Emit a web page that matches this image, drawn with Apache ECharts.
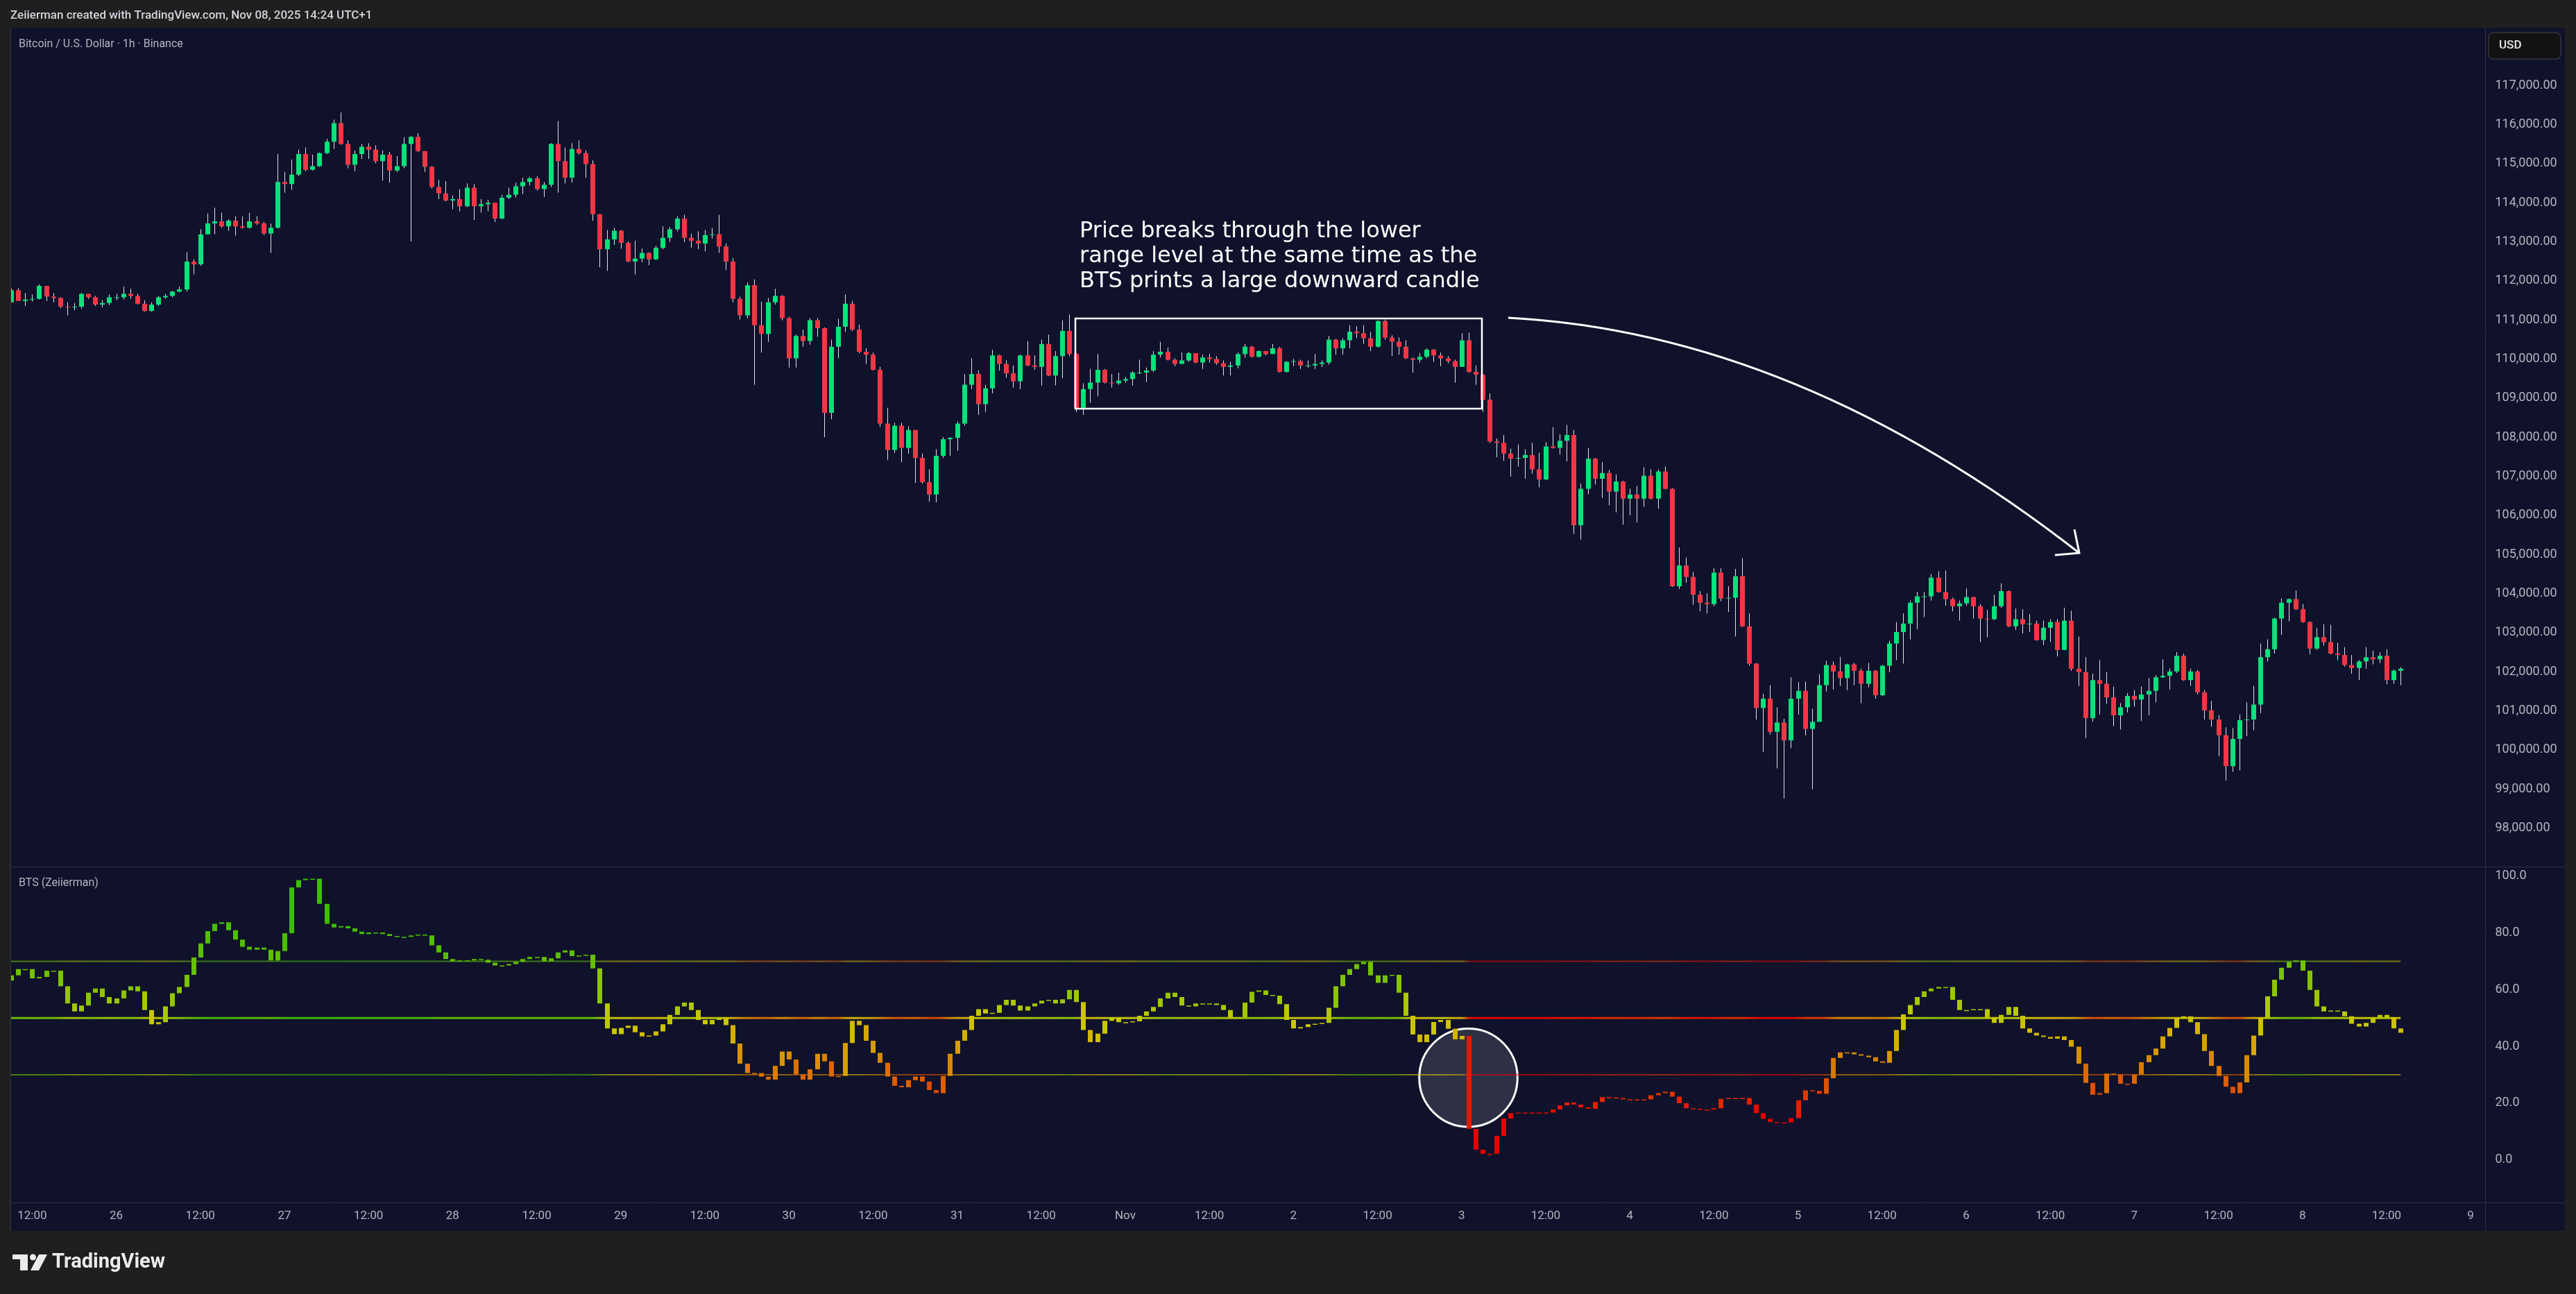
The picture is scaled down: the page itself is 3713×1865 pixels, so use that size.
<!DOCTYPE html>
<html>
<head>
<meta charset="UTF-8">
<title>BTCUSD 1h - BTS</title>
<script src="https://cdn.jsdelivr.net/npm/echarts@6/dist/echarts.min.js"></script>
<style>
  html, body { margin: 0; padding: 0; background: #1f1f1f; }
</style>
</head>
<body>
<div id="main" style="width:3713px;height:1865px"></div>
<script>
// one candle per hour, first one is Oct 25 2025 09:00 (chart time)
var startHour = Date.UTC(2025, 9, 25, 9);
var slotCount = 354;            // hourly slots on the time axis (runs past the last candle)
var monthNames = ['Jan','Feb','Mar','Apr','May','Jun','Jul','Aug','Sep','Oct','Nov','Dec'];

var priceMin = 98000, priceMax = 117000, priceStep = 1000;
var btsMin = 0, btsMax = 100, btsStep = 20;
var btsLevels = [70, 50, 30];

var priceOpen0 = 111448;
var priceClose = [
  111760,111485,111522,111540,111870,111595,111558,111338,111320,111338,111668,111577,
  111393,111430,111577,111577,111668,111614,111412,111228,111393,111577,111614,111723,
  111778,112494,112420,113190,113466,113521,113392,113539,113392,113356,113521,113466,
  113209,113356,114529,114474,114713,115244,114841,114933,115263,115556,116033,115501,
  114969,115244,115428,115354,115061,115226,114822,114933,115501,115684,115318,114914,
  114401,114236,114052,114089,113906,114382,113906,113961,113997,113594,114126,114199,
  114419,114529,114621,114345,114456,115501,115061,114639,115373,115263,114987,113704,
  112806,113062,113282,112970,112494,112567,112714,112549,112842,113099,113319,113594,
  113099,113025,112952,113172,113190,112879,112494,111540,111118,111889,110862,110642,
  111448,111614,111045,110018,110587,110458,110990,110788,108624,110312,110825,111412,
  110752,110183,110110,109725,108349,107671,108294,107726,108184,107469,106846,106534,
  107524,107946,107983,108349,109340,109615,108845,109248,110092,109872,109633,109431,
  110092,109835,109798,110385,109578,110073,110715,110128,108753,109230,109395,109725,
  109395,109377,109450,109487,109652,109652,109706,110110,110183,109982,109872,109963,
  110147,109908,110037,110000,109890,109798,109835,110128,110312,110055,110202,110128,
  110275,109670,109927,109945,109835,109835,109872,109908,110495,110275,110477,110697,
  110660,110532,110312,110972,110550,110440,110312,110018,109982,110055,110238,110092,
  110018,109945,109798,110477,109670,109597,108955,107891,107854,107579,107451,107469,
  107543,107176,106919,107763,107726,107909,108056,105746,106681,107451,106938,107084,
  106607,106864,106424,106534,106424,107011,106424,107121,106681,104187,104719,104425,
  103967,103765,103728,104535,103875,103894,104444,103160,102206,101070,101308,100464,
  100703,100245,101308,101510,100538,100721,101656,102170,102005,101840,102188,102023,
  101693,102023,101400,102152,102720,103013,103233,103765,103930,103930,104407,104040,
  103857,103674,103747,103912,103674,103362,103343,103674,104059,103160,103343,103215,
  103233,102812,103123,103270,102555,103307,102078,101987,100813,101785,101693,101345,
  100886,101088,101381,101290,101418,101510,101858,101895,102005,102408,101785,102005,
  101473,101015,100776,100373,99585,100281,100758,100776,101161,102372,102573,103362,
  103765,103857,103600,103270,102592,102885,102757,102463,102427,102170,102097,102262,
  102372,102317,102408,101785,102023,102078
];
var priceHigh = [
  111797,111815,111687,111650,111907,111870,111687,111577,111448,111430,111687,111668,
  111614,111504,111650,111668,111852,111797,111668,111504,111448,111614,111668,111741,
  111852,112732,112549,113319,113722,113869,113741,113576,113649,113649,113741,113649,
  113502,113466,115244,114786,115098,115354,115409,115226,115281,115629,116124,116308,
  115593,115336,115501,115519,115464,115336,115299,115189,115666,115703,115776,115318,
  114933,114584,114547,114181,114345,114492,114474,114089,114071,113997,114199,114382,
  114511,114639,114657,114676,114529,115519,116088,115409,115519,115593,115336,115079,
  113704,113300,113356,113300,113007,113025,112824,112732,112897,113392,113374,113649,
  113686,113209,113264,113300,113356,113686,112952,112585,111595,111962,112035,111467,
  111558,111797,111632,111082,110623,110752,111045,111045,110807,110495,111027,111650,
  111485,110880,110275,110165,109798,108753,108368,108368,108276,108184,107579,107176,
  107689,108001,108001,108404,109615,110018,109706,109340,110238,110110,109963,109835,
  110110,110458,110092,110495,110623,110202,110990,111137,110147,109377,109743,110128,
  109743,109615,109652,109542,109688,109982,109780,110202,110440,110293,110018,110165,
  110183,110147,110110,110128,110073,109963,109927,110165,110385,110330,110220,110202,
  110385,110312,109945,110000,109982,109963,110128,109963,110587,110513,110532,110862,
  110843,110862,110697,110990,111008,110605,110550,110477,110037,110147,110275,110257,
  110165,110073,109982,110660,110678,109835,109615,109120,107964,108056,107707,107818,
  107689,107854,107598,107873,108258,108074,108313,108184,106809,107726,107469,107359,
  107158,107048,106883,106681,106754,107231,107176,107176,107249,106699,105177,104920,
  104554,104059,104004,104645,104645,104187,104627,104902,103490,102225,101436,101656,
  101088,100795,101858,101730,101748,101051,101932,102280,102262,102372,102207,102225,
  102078,102225,102041,102170,102793,103270,103490,103820,104040,104040,104499,104572,
  104590,103894,103820,104132,103912,103728,103582,103967,104260,104077,103618,103600,
  103472,103307,103307,103343,103343,103637,103563,102903,102372,101950,102298,101987,
  101620,101198,101455,101528,101620,101840,101913,102317,102078,102500,102463,102078,
  102041,101528,101253,100886,100575,100557,100905,101216,101638,102720,102830,103380,
  103875,103875,104077,103728,103288,103123,103215,103197,102738,102628,102427,102298,
  102628,102537,102500,102573,102060,102115
];
var priceLow = [
  111448,111485,111357,111467,111522,111485,111448,111302,111118,111247,111283,111540,
  111357,111320,111375,111504,111522,111540,111393,111210,111210,111357,111540,111577,
  111705,111723,112164,112384,113190,113190,113356,113282,113154,113337,113337,113429,
  113172,112714,113337,114254,114327,114676,114804,114822,114914,115244,115373,115483,
  114878,114804,115116,115116,115006,114566,114511,114786,114878,113007,115299,114786,
  114364,114089,114034,113832,113777,113887,113557,113741,113777,113502,113576,114089,
  114126,114217,114437,114309,114144,114401,114254,114492,114511,115226,114639,113539,
  112347,112255,112916,112824,112475,112164,112475,112402,112531,112806,112989,113264,
  112989,112842,112806,112750,113080,112714,112274,111448,111008,111045,109340,110165,
  110440,111393,110990,109780,109780,110312,110367,110568,108001,108459,110018,110697,
  110715,110147,109872,109706,108258,107414,107598,107359,107579,106828,106809,106351,
  106332,107469,107524,107652,108294,109230,108569,108643,109120,109706,109523,109267,
  109230,109817,109725,109322,109560,109322,109505,110073,108643,108569,108881,109046,
  109377,109267,109340,109395,109322,109615,109413,109670,110037,109963,109817,109890,
  109927,109890,109743,109908,109853,109578,109578,109762,110037,110037,110037,110092,
  110128,109652,109652,109817,109743,109780,109743,109798,109853,110110,110110,110275,
  110532,110385,110202,110293,110495,110073,110110,110000,109652,109908,110018,109927,
  109817,109890,109395,109798,109652,109340,108643,107854,107487,107396,106993,107249,
  106938,107066,106717,106901,107707,107561,107377,105525,105379,106534,106791,106442,
  106259,106076,105764,106003,105819,106222,106406,106167,106662,104169,104114,104279,
  103710,103545,103490,103674,103802,103527,102903,103142,102152,100776,99951,100391,
  99529,98759,100043,100905,100373,98998,100740,101491,101546,101638,101528,101656,
  101198,101601,101308,101381,101987,102298,102207,102830,103087,103398,103820,104022,
  103692,103545,103307,103692,103362,102757,102885,103325,103637,103142,103068,102977,
  103013,102793,102683,102757,102390,102555,102023,101638,100300,100721,100905,101180,
  100611,100520,100960,101106,100740,100886,101216,101840,101546,101968,101767,101638,
  101418,100776,100593,99841,99218,99438,99474,100355,100501,100941,102262,102463,
  102940,103288,103582,103252,102445,102555,102665,102445,102298,102133,101950,101785,
  102078,102188,102225,101675,101693,101656
];

var btsOpen0 = 63.2;
var btsClose = [
  65.0,67.2,67.2,64.0,64.5,66.7,66.7,61.2,55.1,52.3,54.4,58.9,
  60.4,57.4,55.1,56.9,59.7,61.2,59.4,52.8,47.8,48.5,54.1,58.7,
  60.9,65.2,71.3,76.3,80.6,83.2,83.7,80.9,77.6,75.1,74.1,74.8,
  74.1,70.3,73.6,79.9,96.0,98.6,99.1,99.1,90.2,83.2,81.9,82.4,
  81.6,80.4,79.6,80.1,80.1,79.6,78.9,78.6,78.6,79.1,79.4,79.1,
  75.6,73.1,70.8,70.0,70.3,70.3,70.8,70.5,69.5,68.5,68.5,69.0,
  69.8,70.8,71.5,71.5,70.0,71.0,73.1,73.8,71.8,72.0,72.3,67.5,
  55.1,46.3,44.3,46.5,47.3,45.0,43.5,43.8,45.3,47.8,51.1,54.1,
  55.4,52.8,49.3,47.8,49.3,50.1,47.5,41.0,33.9,30.6,30.6,29.3,
  28.3,33.1,38.2,35.4,30.1,28.3,31.9,37.4,34.7,29.4,29.6,41.2,
  49.0,47.5,42.0,37.7,34.2,29.4,26.1,25.6,28.1,29.4,27.6,24.6,
  23.5,29.6,37.4,42.0,45.8,50.8,53.1,51.6,51.8,54.6,56.4,54.4,
  52.6,54.1,55.1,56.1,56.4,55.1,56.6,59.9,55.6,45.8,41.5,44.5,
  49.0,50.1,48.5,48.5,48.8,50.8,52.3,53.9,56.9,58.9,57.4,54.4,
  54.1,55.1,55.1,55.1,54.6,52.8,50.3,50.3,55.4,59.2,59.7,58.1,
  57.9,54.9,49.3,46.3,46.8,47.8,48.0,48.3,53.6,61.2,65.2,67.2,
  69.0,69.8,65.0,62.4,65.0,65.2,58.9,50.8,44.2,41.5,44.2,48.6,
  49.3,46.2,42.5,43.7,10.9,3.6,2.1,2.1,8.5,14.6,16.5,16.7,
  16.7,16.7,16.7,16.7,17.8,19.2,20.2,19.5,18.5,18.0,20.4,22.1,
  22.0,21.8,21.3,21.3,21.0,21.3,22.8,23.5,24.0,22.3,20.0,18.2,
  18.0,17.7,17.7,18.2,21.5,21.8,21.8,21.8,19.5,16.5,14.5,13.4,
  13.2,13.2,14.7,21.0,24.5,24.3,23.3,28.8,35.9,37.9,37.9,37.2,
  36.7,36.2,34.7,34.2,38.4,45.8,51.3,54.6,57.4,59.4,60.4,60.9,
  60.9,56.4,52.8,52.8,53.1,53.1,50.3,48.3,51.1,53.9,50.8,46.3,
  44.8,43.8,43.3,42.7,43.5,42.2,39.9,33.9,27.1,23.0,23.5,30.4,
  30.1,26.8,26.8,30.1,34.4,36.9,39.2,43.5,46.5,50.1,50.6,48.5,
  44.3,38.4,33.1,29.6,25.8,23.5,27.3,36.9,43.8,50.1,57.6,63.5,
  67.7,69.8,70.3,66.7,59.9,54.1,52.3,52.6,52.3,50.6,48.0,47.0,
  48.3,50.1,51.1,50.3,46.3,44.8
];

// ---- colours ----
var upColor = '#08e27b', downColor = '#f23645', wickColor = '#dfe1e8';
var navy = '#10122b', frame = '#1f1f1f', sepColor = '#2c3042', axisText = '#b2b5be';
var toneStops = [[0,'#e60000'],[16,'#e60000'],[23,'#e03800'],[30,'#dc6600'],[37,'#d89400'],
  [44,'#d4b400'],[49,'#cac800'],[54,'#a8c800'],[60,'#86c400'],[68,'#66c000'],[84,'#3cbe00']];

function hexRgb(h) { return [parseInt(h.substr(1,2),16), parseInt(h.substr(3,2),16), parseInt(h.substr(5,2),16)]; }
function toneColor(t) {
  if (t <= toneStops[0][0]) return toneStops[0][1];
  for (var k = 1; k < toneStops.length; k++) {
    if (t <= toneStops[k][0]) {
      var a = toneStops[k-1], b = toneStops[k];
      var f = (t - a[0]) / (b[0] - a[0]);
      var ca = hexRgb(a[1]), cb = hexRgb(b[1]);
      return 'rgb(' + Math.round(ca[0]+(cb[0]-ca[0])*f) + ',' + Math.round(ca[1]+(cb[1]-ca[1])*f) + ',' + Math.round(ca[2]+(cb[2]-ca[2])*f) + ')';
    }
  }
  return toneStops[toneStops.length-1][1];
}

// bar colour follows the value with some lag
var ema = btsOpen0;
var btsColors = btsClose.map(function (v) {
  ema += (v - ema) * 2 / 9;
  return toneColor(0.7 * v + 0.3 * ema);
});

var categories = [];
for (var k = 0; k < slotCount; k++) categories.push(String(startHour + k * 3600000));

var candleData = priceClose.map(function (c, i) {
  return [i, i === 0 ? priceOpen0 : priceClose[i-1], c, priceLow[i], priceHigh[i]];
});
var btsData = btsClose.map(function (c, i) {
  return [i, i === 0 ? btsOpen0 : btsClose[i-1], c];
});

function renderCandle(params, api) {
  var i = api.value(0), o = api.value(1), c = api.value(2);
  var pO = api.coord([i, o]), pC = api.coord([i, c]);
  var yL = api.coord([i, api.value(3)])[1], yH = api.coord([i, api.value(4)])[1];
  var x = Math.round(pO[0]);
  var top = Math.min(pO[1], pC[1]), bot = Math.max(pO[1], pC[1]);
  return { type: 'group', children: [
    { type: 'line', shape: { x1: x + 0.5, y1: yH, x2: x + 0.5, y2: yL }, style: { stroke: wickColor, lineWidth: 1 } },
    { type: 'rect', shape: { x: x - 3, y: top, width: 7, height: Math.max(bot - top, 1) }, style: { fill: c >= o ? upColor : downColor } }
  ]};
}
function renderBts(params, api) {
  var i = api.value(0);
  var pO = api.coord([i, api.value(1)]), pC = api.coord([i, api.value(2)]);
  var x = Math.round(pO[0]);
  var top = Math.min(pO[1], pC[1]), bot = Math.max(pO[1], pC[1]);
  return { type: 'rect', shape: { x: x - 3, y: top, width: 7, height: Math.max(bot - top, 1.5) },
           style: { fill: btsColors[params.dataIndex] } };
}

function levelGradient() {
  var stops = btsColors.map(function (col, i) { return { offset: i / (btsColors.length - 1), color: col }; });
  return new echarts.graphic.LinearGradient(0, 0, 1, 0, stops);
}

function fmtPrice(v) { return String(v).replace(/\B(?=(\d{3})+(?!\d))/g, ',') + '.00'; }
function timeLabel(val) {
  var d = new Date(+val);
  var h = d.getUTCHours();
  if (h === 12) return '12:00';
  if (h === 0) return d.getUTCDate() === 1 ? monthNames[d.getUTCMonth()] : String(d.getUTCDate());
  return '';
}
function showTime(idx, val) { var h = new Date(+val).getUTCHours(); return h === 0 || h === 12; }

var lastIdx = btsClose.length - 1;
var levelSeries = btsLevels.map(function (lv) {
  return {
    type: 'line', xAxisIndex: 1, yAxisIndex: 1, silent: true, symbol: 'none', z: 1,
    data: [[0, lv], [lastIdx, lv]],
    lineStyle: { color: levelGradient(), width: lv === 50 ? 3 : 2, opacity: lv === 50 ? 0.95 : 0.6 }
  };
});

var txt = function (x, y, text, size, color, weight, extra) {
  var st = { text: text, fill: color, fontSize: size, fontFamily: 'Roboto', fontWeight: weight || 'normal',
             textAlign: 'left', textVerticalAlign: 'middle' };
  for (var key in (extra || {})) st[key] = extra[key];
  return { type: 'text', x: x, y: y, z: 101, style: st, silent: true };
};
var hline = function (x1, x2, y, color, z) {
  return { type: 'line', z: z || 50, silent: true, shape: { x1: x1, y1: y, x2: x2, y2: y }, style: { stroke: color, lineWidth: 1 } };
};

var graphics = [
  // grey frame around the dark chart panel
  { type: 'rect', z: 100, silent: true, shape: { x: 0, y: 0, width: 3713, height: 40 }, style: { fill: frame } },
  { type: 'rect', z: 100, silent: true, shape: { x: 0, y: 1774, width: 3713, height: 91 }, style: { fill: frame } },
  { type: 'rect', z: 100, silent: true, shape: { x: 0, y: 0, width: 15, height: 1865 }, style: { fill: frame } },
  { type: 'rect', z: 100, silent: true, shape: { x: 3697, y: 0, width: 16, height: 1865 }, style: { fill: frame } },
  hline(15, 3697, 1249.5, sepColor),
  hline(15, 3697, 1733.5, sepColor),
  { type: 'line', z: 50, silent: true, shape: { x1: 3582.5, y1: 40, x2: 3582.5, y2: 1774 }, style: { stroke: sepColor, lineWidth: 1 } },
  { type: 'line', z: 101, silent: true, shape: { x1: 15.5, y1: 40, x2: 15.5, y2: 1774 }, style: { stroke: '#34363c', lineWidth: 1 } },
  txt(15, 23, 'Zeiierman created with TradingView.com, Nov 08, 2025 14:24 UTC+1', 17, '#d1d4dc', 500),
  txt(27, 64, 'Bitcoin / U.S. Dollar \u00b7 1h \u00b7 Binance', 16, axisText),
  txt(27, 1273, 'BTS (Zeiierman)', 16, axisText),
  { type: 'rect', z: 101, silent: true, shape: { x: 3587, y: 47, width: 104, height: 38, r: 7 },
    style: { fill: '#121212', stroke: '#34363c', lineWidth: 1.5 } },
  txt(3602, 66, 'USD', 17, '#e6e6e6', 500),
  // TradingView logo
  { type: 'rect', z: 101, silent: true, shape: { x: 18, y: 1808, width: 22, height: 7 }, style: { fill: '#ececec' } },
  { type: 'rect', z: 101, silent: true, shape: { x: 29, y: 1808, width: 11, height: 23 }, style: { fill: '#ececec' } },
  { type: 'circle', z: 101, silent: true, shape: { cx: 47.5, cy: 1812, r: 4.5 }, style: { fill: '#ececec' } },
  { type: 'polygon', z: 101, silent: true, shape: { points: [[56, 1808], [68, 1808], [56, 1831], [44, 1831]] }, style: { fill: '#ececec' } },
  txt(75, 1820, 'TradingView', 29, '#ececec', 'bold'),
  // annotation
  { type: 'text', z: 60, silent: true, x: 1556, y: 316,
    style: { text: 'Price breaks through the lower\nrange level at the same time as the\nBTS prints a large downward candle',
             fill: '#ffffff', fontSize: 32, fontFamily: 'DejaVu Sans', lineHeight: 36, textAlign: 'left', textVerticalAlign: 'top' } },
  { type: 'rect', z: 60, silent: true, shape: { x: 1550, y: 459, width: 586, height: 130 },
    style: { fill: 'none', stroke: '#ffffff', lineWidth: 2.5 } },
  { type: 'bezierCurve', z: 60, silent: true, shape: { x1: 2174, y1: 458, cpx1: 2590, cpy1: 480, x2: 2997, y2: 797 },
    style: { fill: 'none', stroke: '#ffffff', lineWidth: 3 } },
  { type: 'polyline', z: 60, silent: true, shape: { points: [[2990, 763], [2997, 797], [2962, 800]] },
    style: { fill: 'none', stroke: '#ffffff', lineWidth: 3 } },
  { type: 'circle', z: 1, silent: true, shape: { cx: 2116.5, cy: 1553.3, r: 70.8 },
    style: { fill: 'rgba(255,255,255,0.13)', stroke: '#ffffff', lineWidth: 3 } }
];

var chart = echarts.init(document.getElementById('main'), null, { renderer: 'canvas' });
chart.setOption({
  animation: false,
  backgroundColor: navy,
  grid: [
    { left: 11, right: 126.6, top: 123, bottom: 671.5 },
    { left: 11, right: 126.6, top: 1262.7, bottom: 193.3 }
  ],
  xAxis: [
    { type: 'category', gridIndex: 0, data: categories, boundaryGap: true,
      axisLine: { show: false }, axisTick: { show: false }, axisLabel: { show: false }, splitLine: { show: false } },
    { type: 'category', gridIndex: 1, data: categories, boundaryGap: true,
      axisLine: { show: false }, axisTick: { show: false }, splitLine: { show: false },
      axisLabel: { interval: showTime, formatter: timeLabel, margin: 73, color: axisText, fontSize: 17, fontFamily: 'Roboto' } }
  ],
  yAxis: [
    { type: 'value', gridIndex: 0, position: 'right', min: priceMin, max: priceMax, interval: priceStep,
      axisLine: { show: false }, axisTick: { show: false }, splitLine: { show: false },
      axisLabel: { margin: 10, color: axisText, fontSize: 18, fontFamily: 'Roboto', formatter: fmtPrice } },
    { type: 'value', gridIndex: 1, position: 'right', min: btsMin, max: btsMax, interval: btsStep,
      axisLine: { show: false }, axisTick: { show: false }, splitLine: { show: false },
      axisLabel: { margin: 10, color: axisText, fontSize: 18, fontFamily: 'Roboto', formatter: function (v) { return v.toFixed(1); } } }
  ],
  series: [
    { type: 'custom', name: 'BTCUSD', xAxisIndex: 0, yAxisIndex: 0, renderItem: renderCandle, clip: true, z: 2,
      encode: { x: 0, y: [1, 2, 3, 4] }, data: candleData },
    { type: 'custom', name: 'BTS', xAxisIndex: 1, yAxisIndex: 1, renderItem: renderBts, clip: true, z: 3,
      encode: { x: 0, y: [1, 2] }, data: btsData }
  ].concat(levelSeries),
  graphic: { elements: graphics }
});
</script>
</body>
</html>
